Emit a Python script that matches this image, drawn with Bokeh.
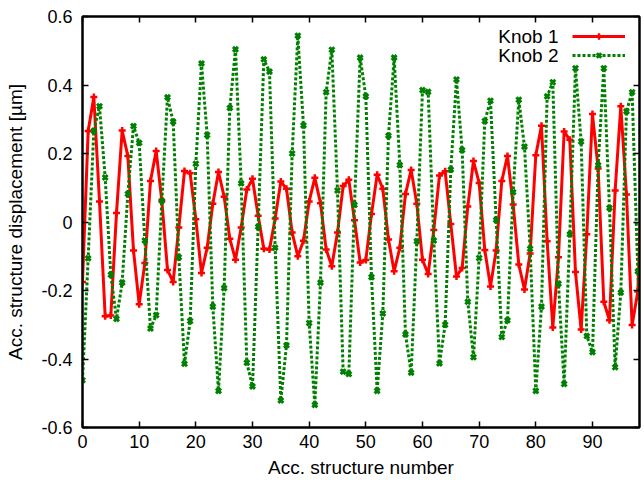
from bokeh.plotting import figure
from bokeh.models import (LinearAxis, FixedTicker, CustomJSTickFormatter, Label,
                          Legend, LegendItem, Range1d, CustomLabelingPolicy)
from bokeh.embed import file_html
from bokeh.resources import INLINE

structure = list(range(100))

knob1 = [-0.175, 0.266, 0.365, 0.06, -0.275, -0.273, 0.026, 0.267, 0.193, -0.083,
         -0.24, -0.12, 0.12, 0.207, 0.062, -0.14, -0.175, -0.016, 0.149, 0.142,
         0.008, -0.149, -0.075, 0.053, 0.146, 0.074, -0.049, -0.11, -0.016, 0.095,
         0.126, 0.018, -0.078, -0.08, 0.01, 0.118, 0.097, -0.031, -0.1, -0.055,
         0.06, 0.129, 0.055, -0.08, -0.129, -0.031, 0.105, 0.123, 0.005, -0.118,
         -0.111, 0.023, 0.138, 0.097, -0.051, -0.144, -0.075, 0.082, 0.152, 0.053,
         -0.11, -0.152, -0.023, 0.136, 0.148, -0.006, -0.159, -0.134, 0.045, 0.178,
         0.114, -0.082, -0.188, -0.083, 0.12, 0.193, 0.051, -0.124, -0.197, -0.092,
         0.195, 0.281, -0.056, -0.308, -0.103, 0.264, 0.24, -0.146, -0.314, -0.036,
         0.315, 0.156, -0.233, -0.287, 0.092, 0.338, 0.08, -0.301, -0.203, 0.25]

knob2 = [-0.462, -0.106, 0.266, 0.338, 0.13, -0.154, -0.283, -0.177, 0.082, 0.28,
         0.231, -0.054, -0.311, -0.272, 0.062, 0.364, 0.293, -0.103, -0.414, -0.289,
         0.17, 0.463, 0.254, -0.247, -0.493, -0.193, 0.333, 0.504, 0.113, -0.411,
         -0.48, -0.014, 0.475, 0.439, -0.075, -0.521, -0.36, 0.2, 0.544, 0.282,
         -0.295, -0.534, -0.177, 0.379, 0.503, 0.092, -0.437, -0.444, 0.05, 0.48,
         0.367, -0.161, -0.493, -0.267, 0.252, 0.48, 0.166, -0.328, -0.44, -0.056,
         0.385, 0.38, -0.054, -0.413, -0.3, 0.153, 0.416, 0.21, -0.233, -0.395,
         -0.105, 0.295, 0.354, 0.006, -0.336, -0.287, 0.087, 0.357, 0.22, -0.078,
         -0.493, -0.247, 0.367, 0.408, -0.18, -0.473, -0.036, 0.449, 0.235, -0.333,
         -0.38, 0.166, 0.449, 0.041, -0.424, -0.206, 0.323, 0.379, -0.144, -0.45]

series_names = ["Knob 1", "Knob 2"]
x_ticks = [0, 10, 20, 30, 40, 50, 60, 70, 80, 90]
y_ticks = [-0.6, -0.4, -0.2, 0.0, 0.2, 0.4, 0.6]

FONT = "Liberation Sans"
RED = "#ff0000"
GREEN = "#008000"

p = figure(width=644, height=480, output_backend="svg", toolbar_location=None,
           x_range=Range1d(0, 98.3), y_range=Range1d(-0.6, 0.6),
           min_border_left=82, min_border_right=1, min_border_top=16,
           min_border_bottom=40)
p.background_fill_color = "white"
p.border_fill_color = "white"
p.xgrid.visible = False
p.ygrid.visible = False
p.outline_line_color = "black"
p.outline_line_width = 2

yfmt = CustomJSTickFormatter(code="""
const v = Math.round(tick * 10) / 10;
return v === 0 ? "0" : v.toFixed(1);
""")

no_labels = CustomLabelingPolicy(code="""
for (const i of indices) { indices.unset(i) }
return indices
""")

def style_axis(ax, ticks, show_labels):
    ax.ticker = FixedTicker(ticks=ticks)
    ax.minor_tick_line_color = None
    ax.major_tick_in = 6
    ax.major_tick_out = 0
    ax.major_tick_line_width = 1.5
    ax.major_tick_line_color = "black"
    ax.axis_line_color = "black"
    ax.axis_line_width = 2
    if show_labels:
        ax.major_label_text_font = FONT
        ax.major_label_text_font_size = "18px"
        ax.major_label_text_color = "black"
        ax.axis_label_text_font = FONT
        ax.axis_label_text_font_size = "19px"
        ax.axis_label_text_font_style = "normal"
        ax.axis_label_text_color = "black"
    else:
        ax.major_label_policy = no_labels
        ax.major_label_text_font_size = "1px"
        ax.major_label_standoff = 0

xa = p.xaxis[0]
ya = p.yaxis[0]
style_axis(xa, x_ticks, True)
style_axis(ya, y_ticks, True)
xa.axis_label = "Acc. structure number"
ya.axis_label = "Acc. structure displacement [\u00b5m]"
ya.formatter = yfmt
xa.major_label_standoff = 7
xa.axis_label_standoff = 6
ya.major_label_standoff = 10
ya.axis_label_standoff = 12

top_ax = LinearAxis()
right_ax = LinearAxis()
style_axis(top_ax, x_ticks, False)
style_axis(right_ax, y_ticks, False)
p.add_layout(top_ax, "above")
p.add_layout(right_ax, "right")

l1 = p.line(structure, knob1, line_color=RED, line_width=3)
s1 = p.scatter(structure, knob1, marker="cross", size=7, line_color=RED, line_width=2.5)
l2 = p.line(structure, knob2, line_color=GREEN, line_width=3, line_dash="3 2")
s2 = p.scatter(structure, knob2, marker="x", size=7, line_color=GREEN, line_width=3)

legend = Legend(items=[LegendItem(label=" ", renderers=[l1, s1]),
                       LegendItem(label=" ", renderers=[l2, s2])],
                location=(490, 364), padding=0, spacing=3, margin=0,
                glyph_width=53, glyph_height=16, label_height=16,
                label_text_font_size="10px", label_standoff=0,
                background_fill_alpha=0, border_line_alpha=0)
p.add_layout(legend, "center")

for i, name in enumerate(series_names):
    p.add_layout(Label(x=476, y=391 - 19 * i, x_units="screen", y_units="screen",
                       text=name, text_align="right", text_baseline="middle",
                       text_font=FONT, text_font_size="19px", text_color="black"))

open("out.html", "w").write(file_html(p, INLINE))
